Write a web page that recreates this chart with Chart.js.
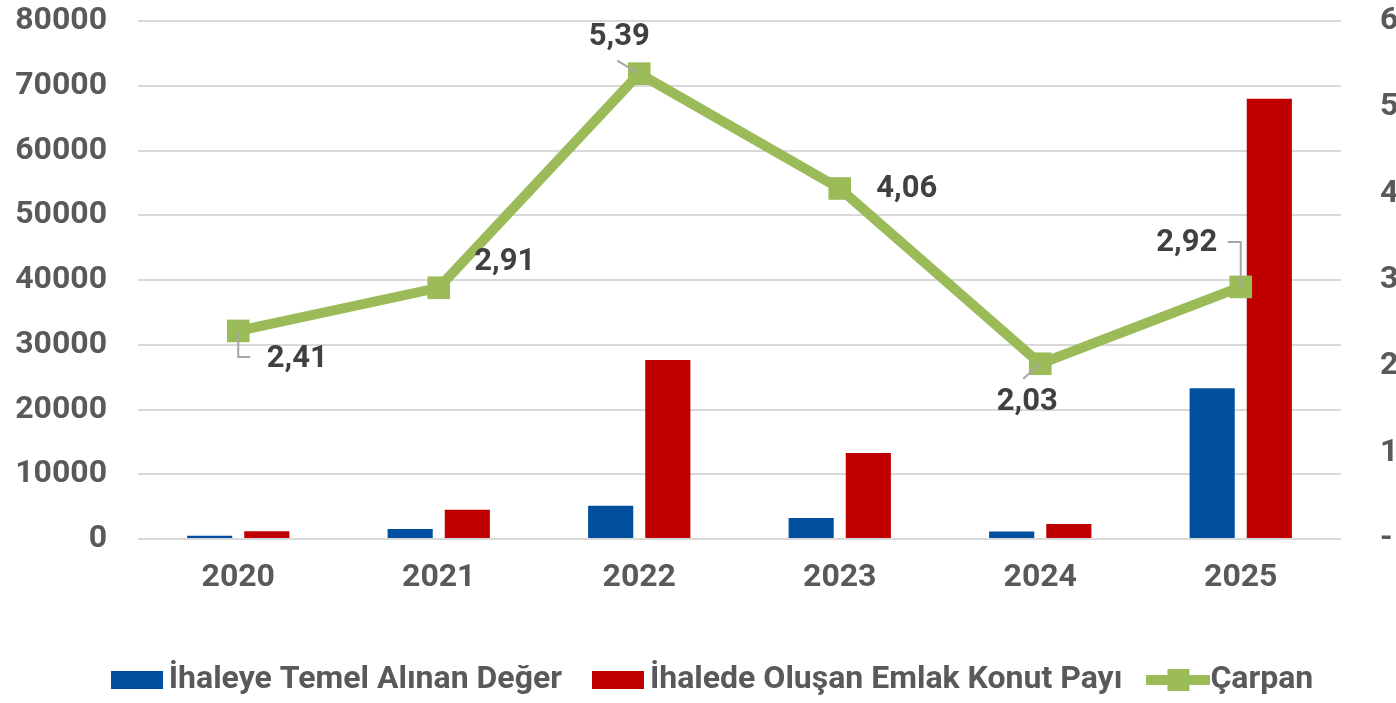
<!DOCTYPE html>
<html>
<head>
<meta charset="utf-8">
<script src="https://cdn.jsdelivr.net/npm/chart.js@4.4.1/dist/chart.umd.min.js"></script>
<style>
  html, body { margin: 0; padding: 0; background: #fff; }
  #wrap { width: 1396px; height: 703px; }
</style>
</head>
<body>
<div id="wrap"><canvas id="chart" width="1396" height="703"></canvas></div>
<script>
const years = ['2020', '2021', '2022', '2023', '2024', '2025'];
const baseValue = [500, 1550, 5130, 3250, 1150, 23300];
const emlakShare = [1200, 4500, 27650, 13300, 2330, 68000];
const multiplier = [2.41, 2.91, 5.39, 4.06, 2.03, 2.92];
const seriesNames = ['İhaleye Temel Alınan Değer', 'İhalede Oluşan Emlak Konut Payı', 'Çarpan'];

// label placement relative to each marker (Excel moved some by hand)
const labelOffsets = [[59, 28], [66, -26], [-20, -36], [67, 1], [-13, 39], [-54, -44]];
const leaderLines = [
    [[0, 0], [0, 26], [12, 26]],
    null,
    [[-22, -13], [-2, -1]],
    null,
    [[0, 0], [-17, 15]],
    [[0, 0], [0, -45], [-13, -45]]
];

const BLUE = '#00509F';
const RED = '#C00000';
const GREEN = '#9BBB59';
const AXIS_GREY = '#595959';

function boxIcon(color) {
    const c = document.createElement('canvas');
    c.width = 52; c.height = 18;
    const g = c.getContext('2d');
    g.fillStyle = color;
    g.fillRect(0, 0, 52, 18);
    return c;
}

function lineIcon(color) {
    const c = document.createElement('canvas');
    c.width = 64; c.height = 24;
    const g = c.getContext('2d');
    g.fillStyle = color;
    g.fillRect(0, 7, 64, 10);
    g.fillRect(21, 1, 22, 22);
    return c;
}

const legendIcons = [boxIcon(BLUE), boxIcon(RED), lineIcon(GREEN)];

const pointLabels = {
    id: 'pointLabels',
    afterDatasetsDraw(chart) {
        const meta = chart.getDatasetMeta(2);
        const ctx = chart.ctx;
        ctx.save();
        meta.data.forEach((pt, i) => {
            const path = leaderLines[i];
            if (path) {
                ctx.strokeStyle = '#A6A6A6';
                ctx.lineWidth = 2;
                ctx.beginPath();
                path.forEach(([dx, dy], k) => {
                    if (k === 0) ctx.moveTo(pt.x + dx, pt.y + dy);
                    else ctx.lineTo(pt.x + dx, pt.y + dy);
                });
                ctx.stroke();
            }
            ctx.fillStyle = '#404040';
            ctx.font = 'bold 31px Roboto';
            ctx.textAlign = 'center';
            ctx.textBaseline = 'middle';
            const text = multiplier[i].toFixed(2).replace('.', ',');
            ctx.fillText(text, pt.x + labelOffsets[i][0], pt.y + labelOffsets[i][1]);
        });
        ctx.restore();
    }
};

// nudge the legend row a little, like the original
const legendShift = {
    id: 'legendShift',
    beforeDraw(chart) {
        chart.legend.left += 19;
        chart.legend.right += 19;
        chart.legend.top += 3;
        chart.legend.bottom += 3;
    }
};

const tickFont = { family: 'Roboto', size: 32, weight: 'bold' };

new Chart(document.getElementById('chart'), {
    type: 'bar',
    data: {
        labels: years,
        datasets: [
            {
                type: 'bar',
                label: seriesNames[0],
                data: baseValue,
                backgroundColor: BLUE,
                yAxisID: 'y',
                order: 2,
                barPercentage: 0.79,
                categoryPercentage: 0.57
            },
            {
                type: 'bar',
                label: seriesNames[1],
                data: emlakShare,
                backgroundColor: RED,
                yAxisID: 'y',
                order: 2,
                barPercentage: 0.79,
                categoryPercentage: 0.57
            },
            {
                type: 'line',
                label: seriesNames[2],
                data: multiplier,
                borderColor: GREEN,
                borderWidth: 10,
                backgroundColor: GREEN,
                pointStyle: 'rect',
                pointRadius: 16,
                pointBackgroundColor: GREEN,
                pointBorderWidth: 0,
                tension: 0,
                yAxisID: 'y1',
                order: 0
            }
        ]
    },
    options: {
        responsive: false,
        animation: false,
        layout: { padding: { top: 21, left: 0, right: 0, bottom: 0 } },
        plugins: {
            tooltip: { enabled: false },
            legend: {
                position: 'bottom',
                labels: {
                    usePointStyle: true,
                    pointStyleWidth: 32,
                    padding: 40,
                    color: AXIS_GREY,
                    font: { family: 'Roboto', size: 32, weight: 'bold' },
                    generateLabels: chart => chart.data.datasets.map((ds, i) => ({
                        text: ds.label,
                        pointStyle: legendIcons[i],
                        fillStyle: ds.backgroundColor,
                        strokeStyle: 'transparent',
                        lineWidth: 0,
                        hidden: false,
                        fontColor: AXIS_GREY,
                        datasetIndex: i
                    }))
                }
            }
        },
        scales: {
            x: {
                grid: { display: false, drawTicks: false },
                border: { display: false },
                ticks: { color: AXIS_GREY, font: tickFont, padding: 20 },
                afterFit: scale => { scale.height = 82; }
            },
            y: {
                position: 'left',
                min: 0,
                max: 80000,
                ticks: {
                    stepSize: 10000,
                    color: AXIS_GREY,
                    font: tickFont,
                    padding: 0,
                    callback: v => String(v)
                },
                grid: { color: '#D9D9D9', lineWidth: 2, tickLength: 31, tickColor: 'transparent' },
                border: { display: false },
                afterFit: scale => { scale.width = 138; }
            },
            y1: {
                position: 'right',
                min: 0,
                max: 6,
                ticks: {
                    stepSize: 1,
                    color: AXIS_GREY,
                    font: tickFont,
                    padding: 0,
                    callback: v => (v === 0 ? '-' : String(v))
                },
                grid: { drawOnChartArea: false, tickLength: 39, tickColor: 'transparent' },
                border: { display: false },
                afterFit: scale => { scale.width = 55; }
            }
        }
    },
    plugins: [pointLabels, legendShift]
});
</script>
</body>
</html>
